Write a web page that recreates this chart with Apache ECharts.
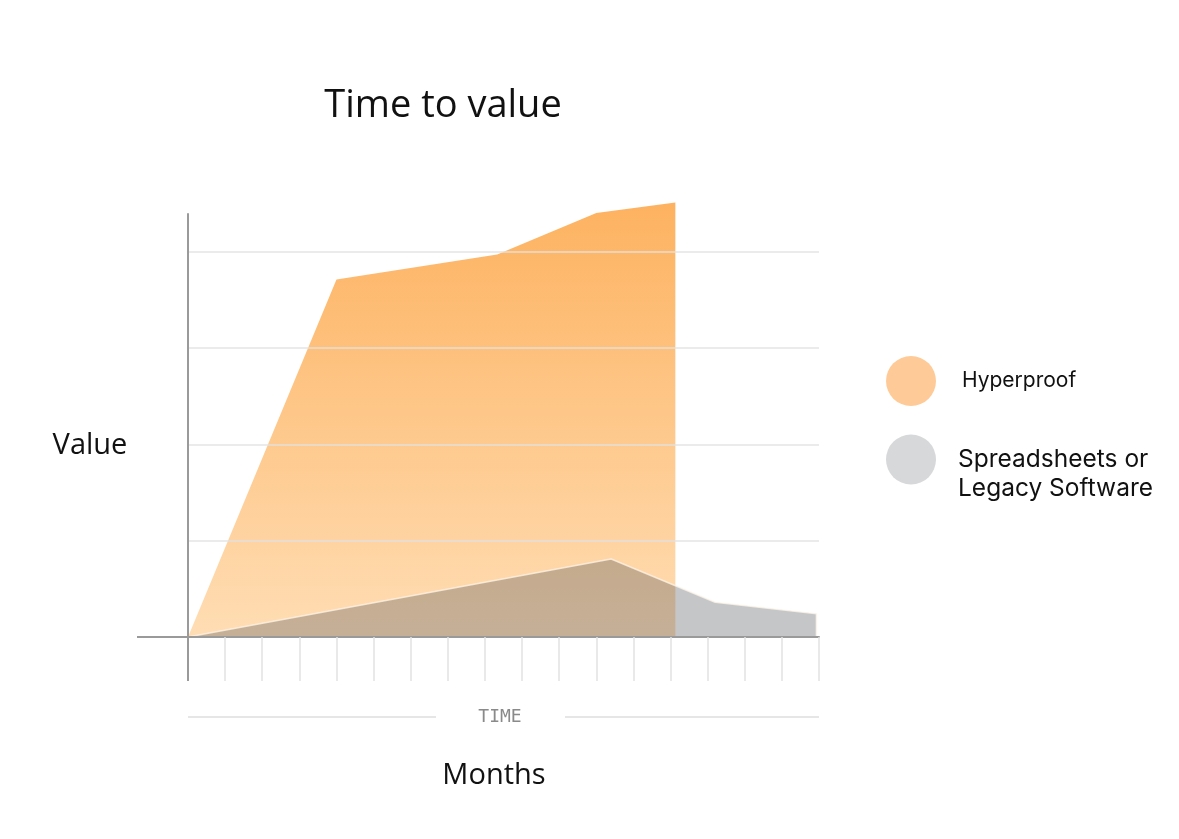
<!DOCTYPE html>
<html>
<head>
<meta charset="utf-8">
<script src="https://cdn.jsdelivr.net/npm/echarts@6/dist/echarts.min.js"></script>
<style>
  html, body { margin: 0; padding: 0; background: #ffffff; }
  #chart { width: 1179px; height: 839px; }
</style>
</head>
<body>
<div id="chart"></div>
<script>
// ---- data ----
const seriesNames = ['Hyperproof', 'Spreadsheets or Legacy Software'];
const hyperproofMonths = [0, 4, 8.33, 11, 13.13, 13.13];
const hyperproofValues = [0, 3.71, 3.97, 4.40, 4.51, 0];
const legacyMonths = [0, 11.4, 14.2, 16.93, 16.93];
const legacyValues = [0, 0.81, 0.36, 0.24, 0];
const monthCount = 17;
const valueTop = 4.39;
const titleText = 'Time to value';
const yAxisLabel = 'Value';
const xAxisLabel = 'Months';
const timeLabel = 'TIME';

const hyperproofData = hyperproofMonths.map((m, i) => [m, hyperproofValues[i]]);
const legacyData = legacyMonths.map((m, i) => [m, legacyValues[i]]);

const chart = echarts.init(document.getElementById('chart'), null, { renderer: 'canvas' });

const textFont = '"Open Sans", "Noto Sans", sans-serif';
const legendFont = 'Inter, "Noto Sans", sans-serif';

const option = {
  backgroundColor: '#ffffff',
  animation: false,
  grid: { left: 188, right: 360, top: 214, bottom: 202, containLabel: false },
  xAxis: {
    type: 'value',
    min: 0,
    max: monthCount,
    interval: 1,
    z: 5,
    axisLine: { show: true, onZero: false, lineStyle: { color: '#9a9a9a', width: 2 } },
    axisTick: { show: true, inside: false, length: 44, lineStyle: { color: '#e2e2e2', width: 1.5 } },
    axisLabel: { show: false },
    splitLine: { show: false }
  },
  yAxis: {
    type: 'value',
    min: 0,
    max: valueTop,
    interval: 1,
    z: 5,
    axisLine: { show: true, onZero: false, lineStyle: { color: '#9a9a9a', width: 2 } },
    axisTick: { show: false },
    axisLabel: { show: false },
    splitLine: { show: true, showMinLine: false, showMaxLine: false, lineStyle: { color: 'rgba(225,225,225,0.9)', width: 1.5 } }
  },
  legend: [
    {
      data: [{ name: seriesNames[0], itemStyle: { color: '#fecb98' } }],
      left: 886, top: 356,
      padding: 0,
      orient: 'vertical',
      icon: 'circle',
      itemWidth: 50, itemHeight: 50,
      selectedMode: false,
      textStyle: { fontFamily: legendFont, fontSize: 21, color: '#111', padding: [0, 0, 0, 21] }
    },
    {
      data: [{ name: seriesNames[1], itemStyle: { color: '#d7d8da' } }],
      left: 886, top: 416,
      padding: 0,
      orient: 'vertical',
      icon: 'circle',
      itemWidth: 50, itemHeight: 50,
      selectedMode: false,
      formatter: (name) => '\n' + name.replace(' or ', ' or\n'),
      textStyle: { fontFamily: legendFont, fontSize: 24.5, lineHeight: 29, color: '#111', padding: [0, 0, 0, 17] }
    }
  ],
  series: [
    {
      name: seriesNames[0],
      type: 'line',
      data: hyperproofData,
      symbol: 'none',
      clip: false,
      lineStyle: { width: 0, color: '#fdb262' },
      itemStyle: { color: '#fecb98' },
      areaStyle: {
        opacity: 1,
        color: new echarts.graphic.LinearGradient(0, 0, 0, 1, [
          { offset: 0, color: 'rgb(253,178,96)' },
          { offset: 1, color: 'rgb(255,221,180)' }
        ])
      },
      z: 2
    },
    {
      name: seriesNames[1],
      type: 'line',
      data: legacyData,
      symbol: 'none',
      clip: false,
      lineStyle: { width: 1.5, color: 'rgba(255,245,235,0.75)' },
      itemStyle: { color: '#d7d8da' },
      areaStyle: { opacity: 1, color: 'rgba(90,91,96,0.35)' },
      z: 3
    }
  ],
  graphic: [
    { type: 'text', x: 443, y: 106, style: { text: titleText, font: '38px ' + textFont, fill: '#111', align: 'center', verticalAlign: 'middle', textAlign: 'center', textVerticalAlign: 'middle' } },
    { type: 'text', x: 90, y: 446, style: { text: yAxisLabel, font: '29px ' + textFont, fill: '#111', align: 'center', verticalAlign: 'middle', textAlign: 'center', textVerticalAlign: 'middle' } },
    { type: 'text', x: 494, y: 776, style: { text: xAxisLabel, font: '29px ' + textFont, fill: '#111', align: 'center', verticalAlign: 'middle', textAlign: 'center', textVerticalAlign: 'middle' } },
    { type: 'text', x: 500, y: 717, style: { text: timeLabel, font: '18px "DejaVu Sans Mono", monospace', fill: '#8a8a8a', align: 'center', verticalAlign: 'middle', textAlign: 'center', textVerticalAlign: 'middle' } }
  ]
};

chart.setOption(option);

// Decorative axis extensions and the rules beside "TIME", placed from the grid
const origin = chart.convertToPixel({ gridIndex: 0 }, [0, 0]);
const endPt = chart.convertToPixel({ gridIndex: 0 }, [monthCount, 0]);
chart.setOption({
  graphic: option.graphic.concat([
    { type: 'line', shape: { x1: origin[0] - 51, y1: origin[1], x2: origin[0], y2: origin[1] }, style: { stroke: '#9a9a9a', lineWidth: 2 }, z: 10 },
    { type: 'line', shape: { x1: origin[0], y1: origin[1], x2: origin[0], y2: origin[1] + 44 }, style: { stroke: '#9a9a9a', lineWidth: 2 }, z: 10 },
    { type: 'line', shape: { x1: origin[0], y1: 717, x2: 436, y2: 717 }, style: { stroke: '#e6e6e6', lineWidth: 2 } },
    { type: 'line', shape: { x1: 565, y1: 717, x2: endPt[0], y2: 717 }, style: { stroke: '#e6e6e6', lineWidth: 2 } }
  ])
});
</script>
</body>
</html>
